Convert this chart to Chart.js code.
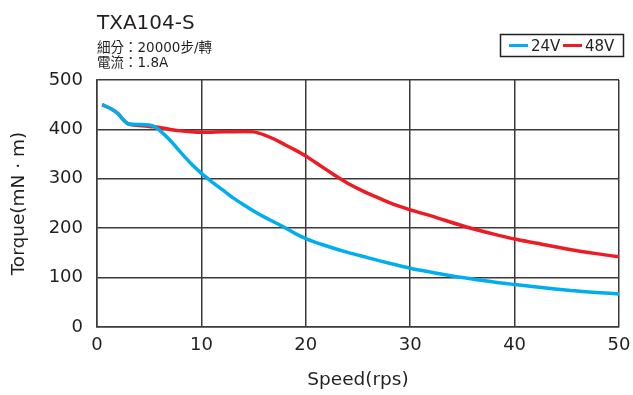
<!DOCTYPE html>
<html>
<head>
<meta charset="utf-8">
<script src="https://cdn.jsdelivr.net/npm/chart.js@4.4.1/dist/chart.umd.min.js"></script>
<style>
  html, body { margin: 0; padding: 0; background: #fff; }
  #wrap { width: 633px; height: 395px; }
</style>
</head>
<body>
<div id="wrap"><canvas id="torque-chart" width="633" height="395"></canvas></div>
<script>
// data
const speed24 = [0.5, 1.5, 2, 2.5, 3, 4, 5, 5.5, 6, 7, 8, 9, 10, 11, 12, 13, 14, 15, 16, 17, 18, 19, 20, 22, 24, 26, 28, 30, 32, 35, 38, 40, 43, 46, 50];
const torque24 = [450, 440, 432, 420, 411, 410, 409, 406, 398, 378, 354, 331, 311, 294, 278, 262, 248, 235, 223, 212, 201, 189, 179, 164, 151, 140, 129, 119, 111, 100, 91, 86, 79, 73, 67];
const speed48 = [0.5, 1.5, 2, 2.5, 3, 4, 5, 6, 7, 8, 9, 10, 12, 14, 15, 16, 17, 18, 19, 20, 21, 22, 23, 24, 25, 26, 27, 28, 29, 30, 32, 35, 38, 40, 42, 45, 48, 50];
const torque48 = [450, 440, 432, 420, 411, 408, 406, 404, 400, 397, 395, 394, 395, 396, 395, 389, 380, 369, 358, 346, 332, 318, 304, 291, 280, 270, 261, 252, 244, 237, 225, 205, 188, 178, 170, 158, 148, 142];
const xTicks = [0, 10, 20, 30, 40, 50];
const yTicks = [0, 100, 200, 300, 400, 500];
const seriesNames = ['24V', '48V'];
const seriesColors = ['#00aeef', '#ed1c24'];

const FONT = '"DejaVu Sans", "Noto Sans CJK TC", sans-serif';
const TEXT = '#231f20';

function toPoints(xs, ys) {
  return xs.map((x, i) => ({ x: x, y: ys[i] }));
}

// title, spec lines and framed legend
const headerPlugin = {
  id: 'header',
  afterDraw(chart) {
    const ctx = chart.ctx;
    const left = chart.chartArea.left;
    ctx.save();
    ctx.fillStyle = TEXT;
    ctx.textBaseline = 'alphabetic';
    ctx.textAlign = 'left';
    ctx.font = '20px ' + FONT;
    ctx.fillText('TXA104-S', left, 29);
    ctx.font = '13.5px ' + FONT;
    ctx.fillText('細分：20000步/轉', left, 52);
    ctx.fillText('電流：1.8A', left, 67);

    // legend box
    ctx.strokeStyle = '#231f20';
    ctx.lineWidth = 1.5;
    ctx.strokeRect(500.5, 34.5, 123, 22);
    ctx.font = '15px ' + FONT;
    const xs = [509, 563];
    xs.forEach((x, i) => {
      ctx.strokeStyle = seriesColors[i];
      ctx.lineWidth = 3;
      ctx.beginPath();
      ctx.moveTo(x, 45.5);
      ctx.lineTo(x + 19, 45.5);
      ctx.stroke();
      ctx.fillStyle = TEXT;
      ctx.fillText(seriesNames[i], x + 22, 51);
    });
    ctx.restore();
  }
};

const ctx = document.getElementById('torque-chart').getContext('2d');

new Chart(ctx, {
  type: 'line',
  data: {
    datasets: [
      {
        label: seriesNames[0],
        data: toPoints(speed24, torque24),
        borderColor: seriesColors[0],
        borderWidth: 3.5,
        pointRadius: 0,
        cubicInterpolationMode: 'monotone',
        fill: false
      },
      {
        label: seriesNames[1],
        data: toPoints(speed48, torque48),
        borderColor: seriesColors[1],
        borderWidth: 3.5,
        pointRadius: 0,
        cubicInterpolationMode: 'monotone',
        fill: false
      }
    ]
  },
  options: {
    responsive: false,
    animation: false,
    layout: {
      padding: { top: 80, right: 14, bottom: 0, left: 0 }
    },
    plugins: {
      legend: { display: false },
      tooltip: { enabled: false }
    },
    scales: {
      x: {
        type: 'linear',
        min: 0,
        max: 50,
        afterFit(scale) {
          scale.height = 68;
          // keep the "50" label from pushing the plot inwards
          scale.paddingLeft = 0;
          scale.paddingRight = 0;
        },
        afterBuildTicks(scale) { scale.ticks = xTicks.map(v => ({ value: v })); },
        grid: { color: '#3a3a3a', lineWidth: 1.5, drawTicks: false },
        border: { color: '#3a3a3a', width: 1.5 },
        ticks: { color: TEXT, font: { family: FONT, size: 18 }, padding: 8, maxRotation: 0 },
        title: {
          display: true,
          text: 'Speed(rps)',
          color: TEXT,
          font: { family: FONT, size: 18.5 },
          padding: { top: 15 }
        }
      },
      y: {
        min: 0,
        max: 500,
        afterFit(scale) { scale.width = 97; },
        afterBuildTicks(scale) { scale.ticks = yTicks.map(v => ({ value: v })); },
        grid: { color: '#3a3a3a', lineWidth: 1.5, drawTicks: false },
        border: { color: '#3a3a3a', width: 1.5 },
        ticks: { color: TEXT, font: { family: FONT, size: 18 }, padding: 14 },
        title: {
          display: true,
          text: 'Torque(mN · m)',
          color: TEXT,
          font: { family: FONT, size: 18.5 },
          padding: { top: 8 }
        }
      }
    }
  },
  plugins: [headerPlugin]
});
</script>
</body>
</html>
